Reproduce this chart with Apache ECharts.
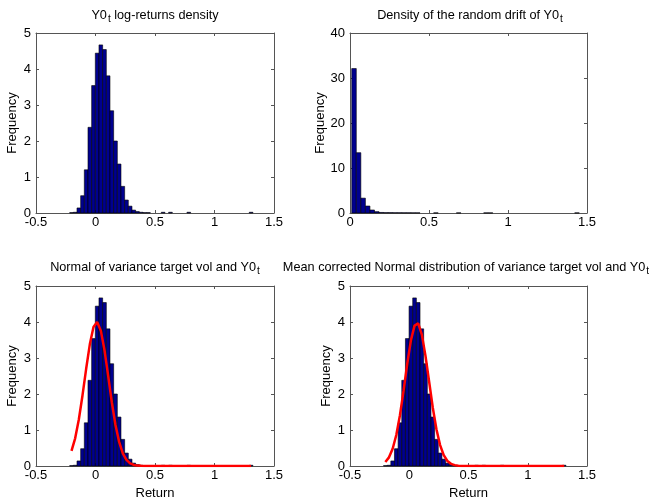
<!DOCTYPE html>
<html>
<head>
<meta charset="utf-8">
<script src="https://cdn.jsdelivr.net/npm/echarts@6/dist/echarts.min.js"></script>
<style>
  html, body { margin: 0; padding: 0; background: #fff; }
  #chart { width: 654px; height: 499px; }
</style>
</head>
<body>
<div id="chart"></div>
<script>
// log-returns histogram: bin centres and density (same histogram in panels 1, 3, 4)
var logBins = [-0.2017, -0.1709, -0.1401, -0.1093, -0.0785, -0.0477, -0.0169, 0.0139, 0.0447, 0.0755,
  0.1063, 0.1371, 0.1679, 0.1987, 0.2295, 0.2603, 0.2911, 0.3219, 0.3527, 0.3835,
  0.4143, 0.4451, 0.4759, 0.5067, 0.5375, 0.5683, 0.5991, 0.6299, 0.6607, 0.6915,
  0.7223, 0.7531, 0.7839, 0.8147, 0.8455, 0.8763, 0.9071, 0.9379, 0.9687, 0.9995,
  1.0303, 1.0611, 1.0919, 1.1227, 1.1535, 1.1843, 1.2151, 1.2459, 1.2767, 1.3075];
var logDensity = [0.01, 0.02, 0.14, 0.48, 1.2, 2.38, 3.54, 4.44, 4.67, 4.54,
  3.81, 2.84, 2.0, 1.36, 0.74, 0.36, 0.19, 0.08, 0.04, 0.02,
  0.01, 0.01, 0, 0, 0, 0.02, 0, 0.02, 0, 0,
  0, 0, 0.02, 0, 0, 0, 0, 0, 0, 0,
  0, 0, 0, 0, 0, 0, 0, 0, 0, 0.02];
var logBinWidth = 0.0308;

// random drift histogram
var driftBins = [0.0254, 0.0542, 0.0830, 0.1118, 0.1406, 0.1694, 0.1982, 0.2270, 0.2558, 0.2846,
  0.3134, 0.3422, 0.3710, 0.3998, 0.4286, 0.4574, 0.4862, 0.5150, 0.5438, 0.5726,
  0.6014, 0.6302, 0.6590, 0.6878, 0.7166, 0.7454, 0.7742, 0.8030, 0.8318, 0.8606,
  0.8894, 0.9182, 0.9470, 0.9758, 1.0046, 1.0334, 1.0622, 1.0910, 1.1198, 1.1486,
  1.1774, 1.2062, 1.2350, 1.2638, 1.2926, 1.3214, 1.3502, 1.3790, 1.4078, 1.4366];
var driftDensity = [32.1, 13.4, 3.3, 1.55, 0.67, 0.3, 0.12, 0.08, 0.08, 0.06,
  0.06, 0.05, 0.05, 0.04, 0.04, 0, 0, 0, 0.03, 0,
  0, 0, 0, 0.03, 0, 0, 0, 0, 0, 0.03,
  0.03, 0, 0, 0, 0, 0, 0, 0, 0, 0,
  0, 0, 0, 0, 0, 0, 0, 0, 0, 0.03];
var driftBinWidth = 0.0288;

// fitted normal curves, read at the log-returns bin centres
var normalFit = [0.42, 0.77, 1.29, 1.96, 2.70, 3.38, 3.86, 4.00, 3.76, 3.22,
  2.51, 1.77, 1.14, 0.67, 0.35, 0.17, 0.075, 0.03, 0.011, 0.004,
  0, 0, 0, 0, 0, 0, 0, 0, 0, 0,
  0, 0, 0, 0, 0, 0, 0, 0, 0, 0,
  0, 0, 0, 0, 0, 0, 0, 0, 0, 0];
var correctedFit = [0.11, 0.24, 0.48, 0.86, 1.41, 2.10, 2.84, 3.49, 3.90, 3.96,
  3.65, 3.06, 2.34, 1.62, 1.02, 0.58, 0.30, 0.14, 0.06, 0.024,
  0.009, 0, 0, 0, 0, 0, 0, 0, 0, 0,
  0, 0, 0, 0, 0, 0, 0, 0, 0, 0,
  0, 0, 0, 0, 0, 0, 0, 0, 0, 0];

var titles = [
  'Y0{t|t} log-returns density',
  'Density of the random drift of Y0{t|t}',
  'Normal of variance target vol and Y0{t|t}',
  'Mean corrected Normal distribution of variance target vol and Y0{t|t}'
];

var FONT = '"Liberation Sans", Arial, sans-serif';
var AXIS_COLOR = '#555';
var FS = 13;

var grids = [
  {left: 36, top: 33, width: 238, height: 180, outerBoundsMode: 'none'},
  {left: 350, top: 33, width: 237, height: 180, outerBoundsMode: 'none'},
  {left: 36, top: 286, width: 238, height: 180, outerBoundsMode: 'none'},
  {left: 350, top: 286, width: 237, height: 180, outerBoundsMode: 'none'}
];

function pairs(xs, ys) {
  return xs.map(function (x, i) { return [x, ys[i]]; });
}

function histSeries(g, bins, values, binWidth) {
  return {
    type: 'custom',
    xAxisIndex: 2 * g,
    yAxisIndex: 2 * g,
    data: pairs(bins, values),
    renderItem: function (params, api) {
      var h = api.value(1);
      if (!h) return null;
      var c = api.value(0);
      var p0 = api.coord([c - binWidth / 2, h]);
      var p1 = api.coord([c + binWidth / 2, 0]);
      return {
        type: 'rect',
        shape: {x: p0[0], y: p0[1], width: p1[0] - p0[0], height: p1[1] - p0[1]},
        style: {fill: '#00008f', stroke: '#000', lineWidth: 0.6}
      };
    }
  };
}

function fitSeries(g, values) {
  return {
    type: 'line',
    xAxisIndex: 2 * g,
    yAxisIndex: 2 * g,
    data: pairs(logBins, values),
    showSymbol: false,
    lineStyle: {color: '#ff0000', width: 2.5},
    z: 5
  };
}

var xAxes = [], yAxes = [];
function addAxes(g, xMin, xMax, yMax, yStep, nameGapY, withReturn) {
  var tick = {show: true, inside: true, length: 3, lineStyle: {color: AXIS_COLOR}};
  var line = {show: true, onZero: false, lineStyle: {color: AXIS_COLOR, width: 1}};
  var label = {color: '#000', fontSize: FS, fontFamily: FONT};
  xAxes.push({
    type: 'value', gridIndex: g, position: 'bottom', min: xMin, max: xMax, interval: 0.5,
    axisLine: line, axisTick: tick, splitLine: {show: false},
    axisLabel: Object.assign({margin: 3}, label),
    name: withReturn ? 'Return' : '', nameLocation: 'middle', nameGap: 21,
    nameTextStyle: {color: '#000', fontSize: FS, fontFamily: FONT}
  });
  xAxes.push({
    type: 'value', gridIndex: g, position: 'top', min: xMin, max: xMax, interval: 0.5,
    axisLine: line, axisTick: tick, axisLabel: {show: false}, splitLine: {show: false}
  });
  yAxes.push({
    type: 'value', gridIndex: g, position: 'left', min: 0, max: yMax, interval: yStep,
    axisLine: line, axisTick: tick, splitLine: {show: false},
    axisLabel: Object.assign({margin: 5}, label),
    name: 'Frequency', nameLocation: 'middle', nameGap: nameGapY,
    nameTextStyle: {color: '#000', fontSize: FS, fontFamily: FONT}
  });
  yAxes.push({
    type: 'value', gridIndex: g, position: 'right', min: 0, max: yMax, interval: yStep,
    axisLine: line, axisTick: tick, axisLabel: {show: false}, splitLine: {show: false}
  });
}

addAxes(0, -0.5, 1.5, 5, 1, 17, false);
addAxes(1, 0, 1.5, 40, 10, 23, false);
addAxes(2, -0.5, 1.5, 5, 1, 17, true);
addAxes(3, -0.5, 1.5, 5, 1, 17, true);

var titleCenters = [[155, 6], [470, 6], [155, 258], [466, 258]];

var chart = echarts.init(document.getElementById('chart'), null, {renderer: 'canvas'});
chart.setOption({
  animation: false,
  backgroundColor: '#fff',
  title: titles.map(function (t, i) {
    return {
      text: t,
      left: titleCenters[i][0],
      top: titleCenters[i][1],
      textAlign: 'center',
      padding: 0,
      textStyle: {
        color: '#000', fontSize: 12.7, fontWeight: 'normal', fontFamily: FONT,
        rich: {
          t: {fontSize: 10, fontFamily: FONT, color: '#000', padding: [8, 0, 0, 1]}
        }
      }
    };
  }),
  grid: grids,
  xAxis: xAxes,
  yAxis: yAxes,
  series: [
    histSeries(0, logBins, logDensity, logBinWidth),
    histSeries(1, driftBins, driftDensity, driftBinWidth),
    histSeries(2, logBins, logDensity, logBinWidth),
    fitSeries(2, normalFit),
    histSeries(3, logBins, logDensity, logBinWidth),
    fitSeries(3, correctedFit)
  ]
});
</script>
</body>
</html>
